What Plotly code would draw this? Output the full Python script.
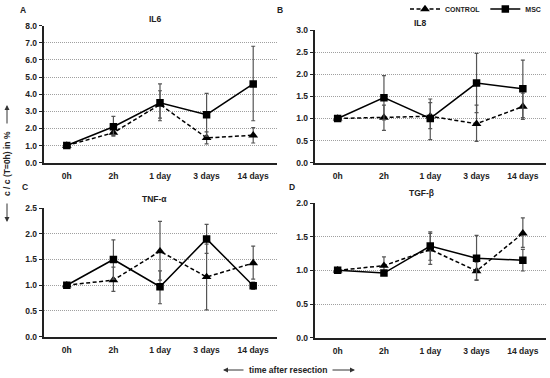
import plotly.graph_objects as go

W, H = 550, 378

times = ["0h", "2h", "1 day", "3 days", "14 days"]

# Panel A - IL6
il6_msc = [1.0, 2.1, 3.5, 2.8, 4.6]
il6_msc_up = [0.0, 0.6, 1.1, 1.25, 2.2]
il6_msc_dn = [0.0, 0.5, 1.05, 1.25, 2.15]
il6_ctl = [1.0, 1.75, 3.4, 1.45, 1.6]
il6_ctl_up = [0.0, 0.2, 0.8, 0.35, 0.45]
il6_ctl_dn = [0.0, 0.2, 0.8, 0.35, 0.45]

# Panel B - IL8
il8_msc = [1.0, 1.47, 1.0, 1.8, 1.67]
il8_msc_up = [0.0, 0.5, 0.44, 0.67, 0.65]
il8_msc_dn = [0.0, 0.5, 0.48, 0.67, 0.65]
il8_ctl = [1.0, 1.02, 1.05, 0.88, 1.27]
il8_ctl_up = [0.0, 0.28, 0.31, 0.42, 0.3]
il8_ctl_dn = [0.0, 0.29, 0.28, 0.4, 0.29]

# Panel C - TNF-alpha
tnf_msc = [1.0, 1.5, 0.97, 1.9, 0.99]
tnf_msc_up = [0.0, 0.38, 0.31, 0.28, 0.07]
tnf_msc_dn = [0.0, 0.38, 0.33, 0.28, 0.07]
tnf_ctl = [1.0, 1.1, 1.66, 1.16, 1.43]
tnf_ctl_up = [0.0, 0.25, 0.58, 0.64, 0.33]
tnf_ctl_dn = [0.0, 0.22, 0.56, 0.64, 0.31]

# Panel D - TGF-beta
tgf_msc = [1.0, 0.96, 1.36, 1.18, 1.15]
tgf_msc_up = [0.0, 0.0, 0.21, 0.34, 0.16]
tgf_msc_dn = [0.0, 0.0, 0.21, 0.33, 0.16]
tgf_ctl = [1.0, 1.07, 1.31, 0.99, 1.55]
tgf_ctl_up = [0.0, 0.13, 0.24, 0.13, 0.23]
tgf_ctl_dn = [0.0, 0.13, 0.22, 0.13, 0.21]

panels = [
    ("IL6", "A", il6_msc, il6_msc_up, il6_msc_dn, il6_ctl, il6_ctl_up, il6_ctl_dn, 8.0, 1.0),
    ("IL8", "B", il8_msc, il8_msc_up, il8_msc_dn, il8_ctl, il8_ctl_up, il8_ctl_dn, 3.0, 0.5),
    ("TNF-α", "C", tnf_msc, tnf_msc_up, tnf_msc_dn, tnf_ctl, tnf_ctl_up, tnf_ctl_dn, 2.5, 0.5),
    ("TGF-β", "D", tgf_msc, tgf_msc_up, tgf_msc_dn, tgf_ctl, tgf_ctl_up, tgf_ctl_dn, 2.0, 0.5),
]

# pixel boxes: (left, right, top, bottom)
boxes = [
    (43.5, 276.5, 25.7, 162.7),
    (314.5, 546.0, 30.0, 162.7),
    (43.5, 276.5, 208.0, 336.7),
    (314.5, 546.0, 203.0, 337.7),
]
title_pos = [(155, 19), (420, 23), (154, 199), (422, 193)]
letter_pos = [(23, 10), (280, 10), (25, 187), (292, 187)]

FONT = "Liberation Sans, Arial, sans-serif"
TXT = "#222222"
ERRC = "#555555"
FS = 8.5

fig = go.Figure()
layout = dict(
    width=W, height=H,
    margin=dict(l=0, r=0, t=0, b=0, pad=0, autoexpand=False),
    paper_bgcolor="white", plot_bgcolor="white",
    font=dict(family=FONT, size=FS, color=TXT, weight="bold"),
    showlegend=True,
    legend=dict(orientation="h", x=405 / W, xanchor="left", y=1 - 9 / H, yanchor="middle",
                font=dict(size=7, weight="bold", color=TXT), bgcolor="rgba(0,0,0,0)",
                itemwidth=30, tracegroupgap=0, entrywidth=0),
)
annotations = []

for i, (title, letter, msc, mu, md, ctl, cu, cd, ymax, dt) in enumerate(panels):
    n = i + 1
    xa = "x" if n == 1 else f"x{n}"
    ya = "y" if n == 1 else f"y{n}"
    l, r, t, b = boxes[i]
    fig.add_trace(go.Scatter(
        x=times, y=ctl, xaxis=xa, yaxis=ya, name="CONTROL", showlegend=(n == 1),
        mode="lines+markers",
        line=dict(color="black", width=1.5, dash="4px,2.5px"),
        marker=dict(symbol="triangle-up", size=8.5, color="black"),
        error_y=dict(type="data", array=cu, arrayminus=cd, symmetric=False,
                     color=ERRC, thickness=1.2, width=2),
    ))
    fig.add_trace(go.Scatter(
        x=times, y=msc, xaxis=xa, yaxis=ya, name="MSC", showlegend=(n == 1),
        mode="lines+markers",
        line=dict(color="black", width=1.5),
        marker=dict(symbol="square", size=7.5, color="black"),
        error_y=dict(type="data", array=mu, arrayminus=md, symmetric=False,
                     color=ERRC, thickness=1.2, width=2),
    ))
    xkey = "xaxis" if n == 1 else f"xaxis{n}"
    ykey = "yaxis" if n == 1 else f"yaxis{n}"
    layout[xkey] = dict(
        domain=[l / W, r / W], anchor=ya, type="category", automargin=False,
        categoryorder="array", categoryarray=times, range=[-0.5, 4.5],
        showline=True, linecolor=TXT, linewidth=1.5,
        showgrid=False, zeroline=False, ticks="",
        tickfont=dict(size=FS, weight="bold", color=TXT),
        ticklabelstandoff=4,
    )
    layout[ykey] = dict(
        domain=[1 - b / H, 1 - t / H], anchor=xa, automargin=False,
        range=[0, ymax], dtick=dt, tick0=0, tickformat=".1f",
        showline=True, linecolor=TXT, linewidth=1.5,
        showgrid=True, gridcolor="#a0a0a0", gridwidth=1, griddash="1px,1px",
        zeroline=False, ticks="outside", ticklen=3, tickcolor=TXT,
        tickfont=dict(size=FS, weight="bold", color=TXT),
    )
    tx, ty = title_pos[i]
    annotations.append(dict(text=title, x=tx / W, y=1 - ty / H, xref="paper", yref="paper",
                            showarrow=False, xanchor="center", yanchor="middle",
                            font=dict(size=FS, weight="bold", color=TXT)))
    lx, ly = letter_pos[i]
    annotations.append(dict(text=letter, x=lx / W, y=1 - ly / H, xref="paper", yref="paper",
                            showarrow=False, xanchor="center", yanchor="middle",
                            font=dict(size=FS, weight="bold", color=TXT)))

# axis titles
annotations.append(dict(text="c / c (T=0h) in %", textangle=-90,
                        x=7 / W, y=1 - 164 / H, xref="paper", yref="paper",
                        showarrow=False, xanchor="center", yanchor="middle",
                        font=dict(size=FS, weight="bold", color=TXT)))
annotations.append(dict(text="time after resection",
                        x=288 / W, y=1 - 370 / H, xref="paper", yref="paper",
                        showarrow=False, xanchor="center", yanchor="middle",
                        font=dict(size=FS, weight="bold", color=TXT)))

# decorative arrows beside the axis titles (head point, tail offset in px)
arrow_style = dict(xref="paper", yref="paper", axref="pixel", ayref="pixel", text="",
                   showarrow=True, arrowhead=2, arrowsize=1, arrowwidth=1, arrowcolor="#333333")
annotations.append(dict(x=7 / W, y=1 - 105 / H, ax=0, ay=20, **arrow_style))
annotations.append(dict(x=7 / W, y=1 - 222 / H, ax=0, ay=-20, **arrow_style))
annotations.append(dict(x=223 / W, y=1 - 370 / H, ax=22, ay=0, **arrow_style))
annotations.append(dict(x=355 / W, y=1 - 370 / H, ax=-24, ay=0, **arrow_style))

layout["annotations"] = annotations
fig.update_layout(**layout)
fig.write_html(
    "out.html",
    config={"displayModeBar": False},
    post_script="document.body.style.margin='0';document.body.style.overflow='hidden';",
)
